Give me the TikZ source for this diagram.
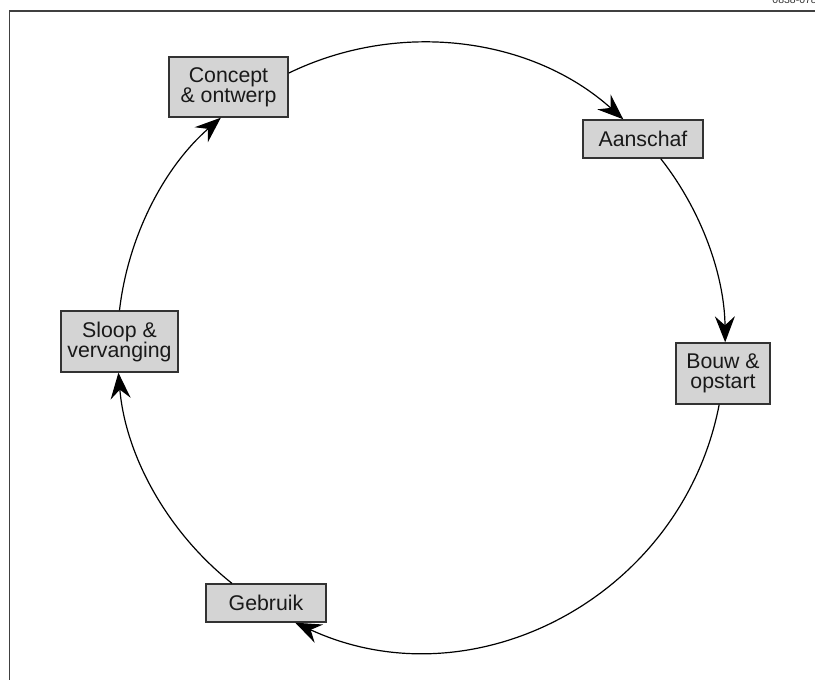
\documentclass[tikz,border=0pt]{standalone}
\usepackage{fontspec}
\setmainfont{Liberation Sans}
\usetikzlibrary{arrows.meta}
\begin{document}
\begin{tikzpicture}[x=1pt,y=1pt,
  phase/.style={draw=black!80, line width=1.4pt, fill=black!17, inner sep=0pt,
    align=center, font=\fontsize{21.3}{20}\selectfont, text=black!90},
  flow/.style={line width=1.2pt, -{Stealth[length=26pt,width=20pt,inset=9pt]}},
  frameline/.style={draw=black!75, line width=1.6pt},
  tag/.style={font=\fontsize{10.5}{12}\selectfont, text=black!80, inner sep=0pt}]
\useasboundingbox (0,0) rectangle (815,680);
\clip (0,0) rectangle (815,680);

% page frame (top and left edges) and drawing number
\coordinate (fl) at (9.5,0);
\coordinate (fc) at (9.5,669);
\coordinate (fr) at (816,669);
\draw[frameline] (fl) -- (fc) -- (fr);
\node[tag, anchor=base east] (num) at (817,676.5) {0838-078};

% life-cycle phases
\node[phase, minimum width=119, minimum height=60] (concept) at (228.5,593) {Concept\\\& ontwerp};
\node[phase, minimum width=120, minimum height=38] (aanschaf) at (643,541) {Aanschaf};
\node[phase, minimum width=94, minimum height=61] (bouw) at (723,306.5) {Bouw \&\\opstart};
\node[phase, minimum width=120, minimum height=38] (gebruik) at (266,77) {Gebruik};
\node[phase, minimum width=117, minimum height=61] (sloop) at (119.5,338.5) {Sloop \&\\vervanging};

% circular flow, clockwise
\draw[flow] (concept.13.6) to[out=25.9, in=138.1, looseness=0.931] (aanschaf.135);
\draw[flow] (aanschaf.-48.2) to[out=-51.8, in=90.6, looseness=0.874] (bouw.86.2);
\draw[flow] (bouw.-97.5) to[out=-101, in=-24.8, looseness=1.053] (gebruik.-34.5);
\draw[flow] (gebruik.150.8) to[out=141.5, in=274.9, looseness=0.888] (sloop.-92.8);
\draw[flow] (sloop.90.9) to[out=83.4, in=221.1, looseness=0.881] (concept.-104);
\end{tikzpicture}
\end{document}
